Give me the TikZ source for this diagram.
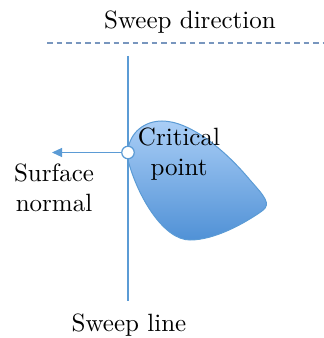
\documentclass[tikz,border=0pt]{standalone}
\usetikzlibrary{arrows.meta}
\definecolor{lineblue}{RGB}{91,155,213}
\definecolor{dashblue}{RGB}{120,150,190}
\definecolor{blobtop}{RGB}{170,206,246}
\definecolor{blobbot}{RGB}{80,145,214}
\tikzset{
  guide/.style={draw=lineblue, line width=0.5pt},
  lbl/.style={font=\normalsize, align=center, anchor=base, inner sep=0pt},
}
\begin{document}
\begin{tikzpicture}[x=0.4pt, y=-0.4pt]
\useasboundingbox (0,0) rectangle (324,338);

% sweep direction
\node[lbl] (dirlbl) at (190,28.5) {Sweep direction};
\coordinate (dashL) at (47,43);
\coordinate (dashR) at (324,43);
\draw[draw=dashblue, line width=0.5pt, dash pattern=on 2.2pt off 1.6pt] (dashL) -- (dashR);

% object region
\path[draw=lineblue, line width=0.4pt, top color=blobtop, bottom color=blobbot]
  (128,150) .. controls (130,132) and (145,121) .. (162,121)
  .. controls (190,121) and (225,150) .. (250,180)
  .. controls (264,196) and (272,204) .. (262,211)
  .. controls (245,223) and (215,240) .. (190,240)
  .. controls (163,240) and (137,195) .. (128,160) -- cycle;

% sweep line
\coordinate (slTop) at (128,56);
\coordinate (slBot) at (128,301);
\draw[guide] (slTop) -- (slBot);
\node[lbl] (sllbl) at (129,331) {Sweep line};

% critical point and surface normal
\node[circle, draw=lineblue, fill=white, line width=0.5pt, minimum size=5pt, inner sep=0pt] (cp) at (128,152.5) {};
\coordinate (nrm) at (52,152.5);
\draw[guide, -{Triangle[length=4pt, width=3.6pt]}] (cp) -- (nrm);

% labels (base anchor sits on the last line)
\node[lbl] (cplbl) at (179,176) {Critical\\point};
\node[lbl] (nrmlbl) at (54,212) {Surface\\normal};
\end{tikzpicture}
\end{document}
